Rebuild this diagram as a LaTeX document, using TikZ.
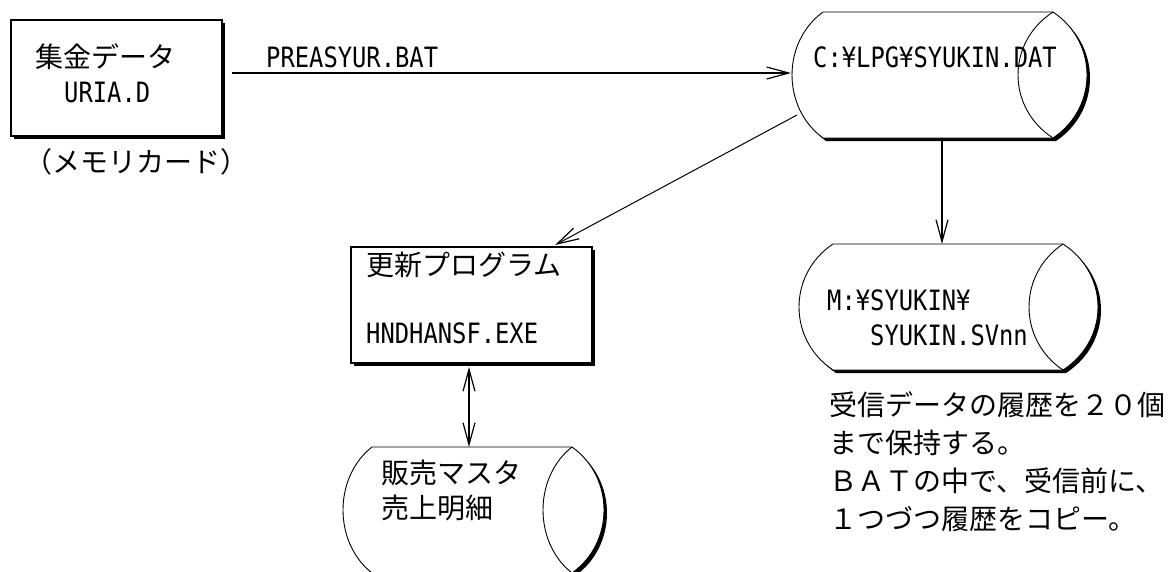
\documentclass[tikz,border=0pt]{standalone}
\usepackage{fontspec}
\setmainfont{Noto Sans CJK JP}
\newfontfamily\hwfont[FakeStretch=0.85]{DejaVu Sans Mono}
\usetikzlibrary{arrows.meta,shadows,calc}
\tikzset{
  jptext/.style={inner sep=0pt, anchor=west, font=\fontsize{28}{38}\selectfont},
  lattext/.style={inner sep=0pt, anchor=west, font=\hwfont\fontsize{28}{35}\selectfont},
  procbox/.style={draw, line width=2pt, fill=white, inner sep=0pt,
    drop shadow={shadow xshift=3pt,shadow yshift=-3pt,opacity=1,fill=black}},
  conn/.style={line width=1.5pt, -{Straight Barb[length=22pt,width=12pt,line width=1.2pt]}},
  conn2/.style={line width=1.5pt, {Straight Barb[length=22pt,width=12pt,line width=1.2pt]}-{Straight Barb[length=22pt,width=12pt,line width=1.2pt]}},
  thinconn/.style={line width=1pt},
  cylline/.style={line width=0.9pt},
  anchorbox/.style={inner sep=0pt, outer sep=0pt}
}
% #1 L, #2 R, #3 T, #4 B, #5 left sagitta, #6 outer right sagitta, #7 inner sagitta
\newcommand\cylshape[7]{%
  \fill[black, shift={(3,3)}] (#1,#3) -- (#2,#3)
     .. controls ({#2+4*#6/3},{#3+0.24*(#4-#3)}) and ({#2+4*#6/3},{#4-0.24*(#4-#3)}) .. (#2,#4)
     -- (#1,#4)
     .. controls ({#1-4*#5/3},{#4-0.24*(#4-#3)}) and ({#1-4*#5/3},{#3+0.24*(#4-#3)}) .. cycle;
  \filldraw[cylline, fill=white] (#1,#3) -- (#2,#3)
     .. controls ({#2+4*#6/3},{#3+0.24*(#4-#3)}) and ({#2+4*#6/3},{#4-0.24*(#4-#3)}) .. (#2,#4)
     -- (#1,#4)
     .. controls ({#1-4*#5/3},{#4-0.24*(#4-#3)}) and ({#1-4*#5/3},{#3+0.24*(#4-#3)}) .. cycle;
  \draw[cylline] (#2,#3)
     .. controls ({#2-4*#7/3},{#3+0.24*(#4-#3)}) and ({#2-4*#7/3},{#4-0.24*(#4-#3)}) .. (#2,#4);
}
\begin{document}
\begin{tikzpicture}[x=1pt,y=-1pt]
\useasboundingbox (0,0) rectangle (1172,571);

% --- box 1 ---
\node[procbox, minimum width=211pt, minimum height=116pt] (b1) at (116.5,78) {};
\node[jptext] (t1a) at (35,57) {集金データ};
\node[lattext] (t1b) at (64,92) {URIA.D};
\node[jptext] (t1c) at (24,162) {（メモリカード）};

% --- box 2 ---
\node[procbox, minimum width=241pt, minimum height=116pt] (b2) at (471.5,305) {};
\node[jptext] (t2a) at (366,265) {更新プログラム};
\node[lattext] (t2b) at (366,333) {HNDHANSF.EXE};

% --- stored data 1 ---
\cylshape{823}{1053}{12}{138}{31}{34}{35}
\node[anchorbox, minimum width=230pt, minimum height=126pt] (c1) at (938,75) {};
\coordinate (c1w) at (791,75);
\node[lattext] (tc1) at (813,57) {C:¥LPG¥SYUKIN.DAT};

% --- stored data 2 ---
\cylshape{833}{1063}{244}{370}{34}{35}{34}
\node[anchorbox, minimum width=230pt, minimum height=126pt] (c2) at (948,307) {};
\node[lattext] (tc2a) at (827,300) {M:¥SYUKIN¥};
\node[lattext] (tc2b) at (870,335) {SYUKIN.SVnn};

% --- stored data 3 ---
\cylshape{372}{572}{447}{573}{29}{32}{29}
\node[anchorbox, minimum width=200pt, minimum height=126pt] (c3) at (472,510) {};
\node[jptext] (tc3a) at (381,473) {販売マスタ};
\node[jptext] (tc3b) at (381,508) {売上明細};

% --- note ---
\node[jptext, anchor=north west, align=left] (note) at (829,391)
  {受信データの履歴を２０個\\まで保持する。\\ＢＡＴの中で、受信前に、\\１つづつ履歴をコピー。};

% --- connectors ---
\coordinate (h1) at (232,73);
\draw[conn] (h1) -- (h1 -| c1w);
\node[lattext] (lbl) at (266,57) {PREASYUR.BAT};

\coordinate (d1) at (797,115);
\draw[conn, thinconn] (d1) -- ([xshift=83.5pt,yshift=1pt]b2.north);

\draw[conn] ([xshift=4pt]c1.south) -- ([xshift=4pt]c1.south |- c2.north);

\draw[conn2] ([xshift=-2.5pt,yshift=-3pt]b2.south) -- ([xshift=-2.5pt]b2.south |- c3.north);
\end{tikzpicture}
\end{document}
